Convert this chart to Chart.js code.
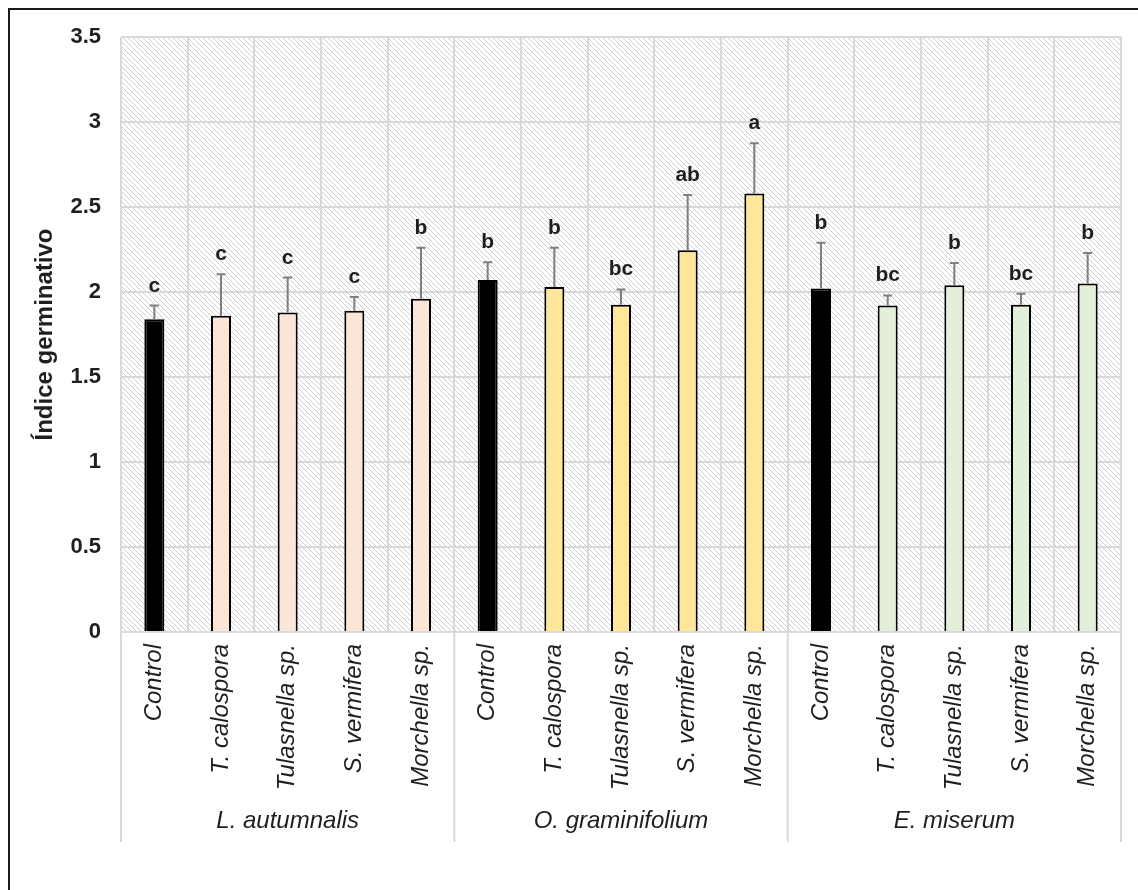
<!doctype html>
<html>
<head>
<title>Indice germinativo</title>
<script src="https://cdn.jsdelivr.net/npm/chart.js@4.4.1/dist/chart.umd.min.js"></script>
<style>
  body { margin: 0; background: #fff; }
  #wrap { width: 1138px; height: 890px; }
</style>
</head>
<body>
<div id="wrap"><canvas id="bar-chart" width="1138" height="890"></canvas></div>
<script>
// categories
var groups = ['L. autumnalis', 'O. graminifolium', 'E. miserum'];
var treatments = ['Control', 'T. calospora', 'Tulasnella sp.', 'S. vermifera', 'Morchella sp.'];

// means and (upper) error per group
var meanLA = [1.84, 1.86, 1.88, 1.89, 1.96];
var errLA  = [0.08, 0.245, 0.205, 0.08, 0.30];
var meanOG = [2.07, 2.03, 1.925, 2.245, 2.58];
var errOG  = [0.105, 0.23, 0.09, 0.325, 0.295];
var meanEM = [2.02, 1.92, 2.04, 1.925, 2.05];
var errEM  = [0.27, 0.06, 0.13, 0.065, 0.18];

// significance letters
var lettersLA = ['c', 'c', 'c', 'c', 'b'];
var lettersOG = ['b', 'b', 'bc', 'ab', 'a'];
var lettersEM = ['b', 'bc', 'b', 'bc', 'b'];

var groupColors = ['#FBE5D6', '#FFE699', '#E2F0D9'];
var controlColor = '#000000';

// build flat arrays for the library
var labels = [], means = [], errs = [], letters = [], colors = [];
var allMeans = [meanLA, meanOG, meanEM];
var allErrs = [errLA, errOG, errEM];
var allLetters = [lettersLA, lettersOG, lettersEM];
groups.forEach(function (g, gi) {
  treatments.forEach(function (t, ti) {
    labels.push(t);
    means.push(allMeans[gi][ti]);
    errs.push(allErrs[gi][ti]);
    letters.push(allLetters[gi][ti]);
    colors.push(ti === 0 ? controlColor : groupColors[gi]);
  });
});

var FONT = '"Liberation Sans", Arial, sans-serif';
var TEXT = '#1f1f1f';

function hatchTile() {
  var s = 5;
  var c = document.createElement('canvas');
  c.width = s; c.height = s;
  var x = c.getContext('2d');
  x.fillStyle = '#ffffff';
  x.fillRect(0, 0, s, s);
  x.strokeStyle = '#cfcfcf';
  x.lineWidth = 1;
  x.beginPath();
  x.moveTo(-1, -1); x.lineTo(s + 1, s + 1);
  x.moveTo(-1, s - 1); x.lineTo(1, s + 1);
  x.moveTo(s - 1, -1); x.lineTo(s + 1, 1);
  x.stroke();
  return c;
}

var decor = {
  id: 'decor',
  beforeDraw: function (chart) {
    var ctx = chart.ctx, a = chart.chartArea;
    ctx.save();
    ctx.fillStyle = '#ffffff';
    ctx.fillRect(0, 0, chart.width, chart.height);
    ctx.fillStyle = ctx.createPattern(hatchTile(), 'repeat');
    ctx.fillRect(a.left, a.top, a.right - a.left, a.bottom - a.top);
    ctx.restore();
  },
  afterDatasetsDraw: function (chart) {
    var ctx = chart.ctx, yScale = chart.scales.y;
    var meta = chart.getDatasetMeta(0);
    ctx.save();
    meta.data.forEach(function (bar, i) {
      var yTop = yScale.getPixelForValue(means[i] + errs[i]);
      ctx.strokeStyle = '#7f7f7f';
      ctx.lineWidth = 2;
      ctx.beginPath();
      ctx.moveTo(bar.x, bar.y);
      ctx.lineTo(bar.x, yTop);
      ctx.moveTo(bar.x - 4.5, yTop);
      ctx.lineTo(bar.x + 4.5, yTop);
      ctx.stroke();
      ctx.fillStyle = TEXT;
      ctx.font = 'bold 21px ' + FONT;
      ctx.textAlign = 'center';
      ctx.textBaseline = 'alphabetic';
      ctx.fillText(letters[i], bar.x, yTop - 14);
    });
    ctx.restore();
  },
  afterDraw: function (chart) {
    var ctx = chart.ctx, a = chart.chartArea, xs = chart.scales.x;
    var cw = (a.right - a.left) / labels.length;
    ctx.save();
    ctx.strokeStyle = '#d9d9d9';
    ctx.lineWidth = 2;
    for (var g = 0; g <= groups.length; g++) {
      var idx = g * treatments.length;
      var px = xs.getPixelForValue(Math.min(idx, labels.length - 1)) + (idx < labels.length ? -cw / 2 : cw / 2);
      ctx.beginPath();
      ctx.moveTo(px, a.bottom);
      ctx.lineTo(px, a.bottom + 210);
      ctx.stroke();
    }
    ctx.fillStyle = TEXT;
    ctx.font = 'italic 24px ' + FONT;
    ctx.textAlign = 'center';
    ctx.textBaseline = 'middle';
    groups.forEach(function (name, gi) {
      var first = xs.getPixelForValue(gi * treatments.length);
      var last = xs.getPixelForValue(gi * treatments.length + treatments.length - 1);
      ctx.fillText(name, (first + last) / 2, a.bottom + 189);
    });
    // outer frame (only top and left visible in the original crop)
    ctx.strokeStyle = '#1a1a1a';
    ctx.lineWidth = 2;
    ctx.strokeRect(9, 9, chart.width + 50, chart.height + 50);
    ctx.restore();
  }
};

new Chart(document.getElementById('bar-chart'), {
  type: 'bar',
  data: {
    labels: labels,
    datasets: [{
      data: means,
      backgroundColor: colors,
      borderColor: '#000000',
      borderWidth: 2,
      barPercentage: 0.3,
      categoryPercentage: 1.0
    }]
  },
  options: {
    responsive: false,
    animation: false,
    layout: { padding: { top: 37, right: 17, bottom: 48, left: 0 } },
    plugins: { legend: { display: false }, tooltip: { enabled: false } },
    scales: {
      x: {
        afterFit: function (scale) { scale.height = 210; },
        grid: { color: '#d9d9d9', lineWidth: 2, drawTicks: false, offset: true },
        border: { display: true, color: '#d9d9d9', width: 2 },
        ticks: {
          autoSkip: false,
          maxRotation: 90,
          minRotation: 90,
          padding: 12,
          color: TEXT,
          font: { family: FONT, size: 24, style: 'italic' }
        }
      },
      y: {
        min: 0,
        max: 3.5,
        afterFit: function (scale) { scale.width = 121; },
        grid: { color: '#d9d9d9', lineWidth: 2, drawTicks: false },
        border: { display: false },
        ticks: {
          stepSize: 0.5,
          padding: 20,
          color: TEXT,
          font: { family: FONT, size: 22, weight: 'bold' },
          callback: function (v) { return String(v); }
        },
        title: {
          display: true,
          text: 'Índice germinativo',
          color: TEXT,
          padding: { top: 31, bottom: 0 },
          font: { family: FONT, size: 24, weight: 'bold' }
        }
      }
    }
  },
  plugins: [decor]
});
</script>
</body>
</html>
